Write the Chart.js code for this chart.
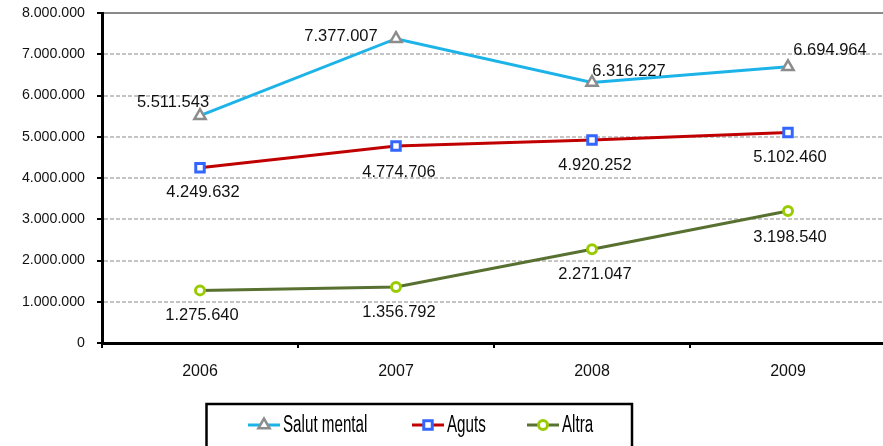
<!DOCTYPE html>
<html><head><meta charset="utf-8">
<script src="https://cdn.jsdelivr.net/npm/chart.js@4"></script>
<style>
html,body{margin:0;padding:0;background:#fff;overflow:hidden;width:883px;height:446px}
#wrap{position:absolute;left:0;top:0;width:896px;height:446px}
#c{display:block;width:896px;height:446px}
</style>
</head><body><div id="wrap"><canvas id="c" width="896" height="446"></canvas></div>
<script>
// ---- data ----
const years = ['2006', '2007', '2008', '2009'];
const salutMental = [5511543, 7377007, 6316227, 6694964];
const aguts = [4249632, 4774706, 4920252, 5102460];
const altra = [1275640, 1356792, 2271047, 3198540];
const seriesNames = ['Salut mental', 'Aguts', 'Altra'];
const yMin = 0, yMax = 8000000, yStep = 1000000;

// ---- styling / label placement ----
const FONT = "'Liberation Sans', Arial, sans-serif";
const styles = [
  {line: '#1cb3e8', marker: '#8c8c8c', style: 'triangle', radius: 6.5, bw: 2.5},
  {line: '#c00000', marker: '#3366ff', style: 'rect', radius: 6, bw: 3},
  {line: '#587131', marker: '#99cc00', style: 'circle', radius: 4.5, bw: 3}
];
const labelOffsets = [
  [[-27, -13], [-55, -2], [37, -11], [42, -16]],
  [[3, 25], [3, 26], [3, 25], [2, 25]],
  [[2, 25], [3, 25], [3, 25], [2, 26]]
];

function fmt(n) {
  return String(Math.round(n)).replace(/\B(?=(\d{3})+(?!\d))/g, '.');
}

function drawMarker(ctx, st, x, y) {
  ctx.save();
  ctx.lineWidth = st.bw;
  ctx.strokeStyle = st.marker;
  ctx.fillStyle = '#fff';
  ctx.beginPath();
  const r = st.radius;
  if (st.style === 'triangle') {
    ctx.moveTo(x, y - r);
    ctx.lineTo(x + r * 0.866, y + r * 0.5);
    ctx.lineTo(x - r * 0.866, y + r * 0.5);
    ctx.closePath();
  } else if (st.style === 'rect') {
    const s = r * Math.SQRT1_2;
    ctx.rect(x - s, y - s, 2 * s, 2 * s);
  } else {
    ctx.arc(x, y, r, 0, Math.PI * 2);
  }
  ctx.fill();
  ctx.stroke();
  ctx.restore();
}

const dataLabels = {
  id: 'dataLabels',
  afterDatasetsDraw(chart) {
    const ctx = chart.ctx;
    ctx.save();
    ctx.font = '16.5px ' + FONT;
    ctx.fillStyle = '#111';
    ctx.textAlign = 'center';
    ctx.textBaseline = 'middle';
    chart.data.datasets.forEach((ds, i) => {
      chart.getDatasetMeta(i).data.forEach((el, j) => {
        const o = labelOffsets[i][j];
        ctx.fillText(fmt(ds.data[j]), el.x + o[0], el.y + o[1]);
      });
    });
    ctx.restore();
  }
};

const boxLegend = {
  id: 'boxLegend',
  afterDraw(chart) {
    const ctx = chart.ctx;
    ctx.save();
    ctx.lineWidth = 2.5;
    ctx.strokeStyle = '#000';
    ctx.strokeRect(206.5, 404, 425.5, 50);
    const starts = [248, 412, 527];
    const y = 425;
    chart.data.datasets.forEach((ds, i) => {
      const st = styles[i];
      const x0 = starts[i];
      ctx.lineWidth = 3;
      ctx.strokeStyle = st.line;
      ctx.beginPath();
      ctx.moveTo(x0, y);
      ctx.lineTo(x0 + 32, y);
      ctx.stroke();
      drawMarker(ctx, st, x0 + 16, y);
      ctx.save();
      ctx.translate(x0 + 35, y + 1);
      ctx.scale(0.66, 1);
      ctx.font = '23px ' + FONT;
      ctx.fillStyle = '#000';
      ctx.textAlign = 'left';
      ctx.textBaseline = 'middle';
      ctx.fillText(ds.label, 0, 0);
      ctx.restore();
    });
    ctx.restore();
  }
};

const seriesData = [salutMental, aguts, altra];
const datasets = seriesData.map((d, i) => ({
  label: seriesNames[i],
  data: d,
  borderColor: styles[i].line,
  borderWidth: 3,
  tension: 0,
  pointStyle: styles[i].style,
  pointRadius: styles[i].radius,
  pointHoverRadius: styles[i].radius,
  pointBorderWidth: styles[i].bw,
  pointBorderColor: styles[i].marker,
  pointBackgroundColor: '#fff'
}));

new Chart(document.getElementById('c'), {
  type: 'line',
  data: {labels: years, datasets},
  plugins: [dataLabels, boxLegend],
  options: {
    responsive: false,
    animation: false,
    devicePixelRatio: 1,
    layout: {padding: {left: 0, right: 10, top: 13, bottom: 63}},
    plugins: {legend: {display: false}, tooltip: {enabled: false}},
    scales: {
      x: {
        offset: true,
        grid: {offset: true, drawOnChartArea: false, drawTicks: true, tickLength: 5, color: '#000', lineWidth: 2},
        border: {display: true, color: '#000', width: 3},
        ticks: {color: '#111', font: {family: FONT, size: 16}, padding: 14, maxRotation: 0},
        afterFit(s) { s.height = 40; s.paddingLeft = 0; s.paddingRight = 0; }
      },
      y: {
        min: yMin, max: yMax,
        ticks: {stepSize: yStep, color: '#111', font: {family: FONT, size: 14.2}, padding: 12, callback: v => fmt(v)},
        grid: {
          color: c => (c.tick && c.tick.value === yMax) ? '#8a8a8a' : (c.tick && c.tick.value === 0 ? 'rgba(0,0,0,0)' : '#c4c4c4'),
          lineWidth: 2,
          tickColor: '#000',
          tickLength: 5,
          tickWidth: 2,
          tickBorderDash: []
        },
        border: {display: true, color: '#000', width: 3,
          dash: c => (c.tick && c.tick.value === yMax) ? [] : [4, 2]},
        afterFit(s) { s.width = 102; s.paddingTop = 0; s.paddingBottom = 0; }
      }
    }
  }
});
</script>
</body></html>
